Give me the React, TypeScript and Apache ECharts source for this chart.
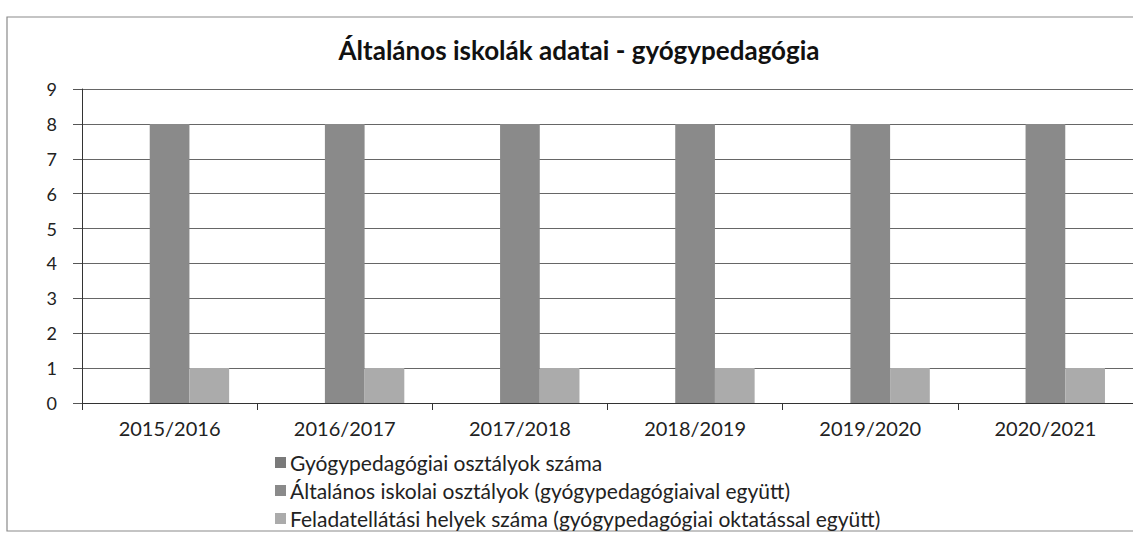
import React, { useEffect, useRef } from "react";
import * as echarts from "echarts";

const categories = ["2015/2016", "2016/2017", "2017/2018", "2018/2019", "2019/2020", "2020/2021"];
const seriesNames = [
  "Gyógypedagógiai osztályok száma",
  "Általános iskolai osztályok (gyógypedagógiaival együtt)",
  "Feladatellátási helyek száma (gyógypedagógiai oktatással együtt)",
];
const gyogypedOsztalyok = [0, 0, 0, 0, 0, 0];
const altalanosOsztalyok = [8, 8, 8, 8, 8, 8];
const feladatellatasiHelyek = [1, 1, 1, 1, 1, 1];
const seriesColors = ["#7a7a7a", "#8a8a8a", "#ababab"];
const FONT = "Lato, 'Open Sans', sans-serif";

export default function App() {
  const ref = useRef<HTMLDivElement>(null);
  useEffect(() => {
    if (!ref.current) return;
    const chart = echarts.init(ref.current, undefined, { renderer: "svg" });
    const values = [gyogypedOsztalyok, altalanosOsztalyok, feladatellatasiHelyek];
    chart.setOption({
      animation: false,
      backgroundColor: "#ffffff",
      title: {
        text: "Általános iskolák adatai - gyógypedagógia",
        left: 574,
        top: 32,
        textAlign: "center",
        textStyle: { fontFamily: FONT, fontSize: 26, fontWeight: "bold", color: "#111" },
      },
      graphic: [
        {
          type: "rect",
          shape: { x: 7, y: 17, width: 1140, height: 514 },
          style: { fill: "none", stroke: "#8a8a8a", lineWidth: 1.2 },
          silent: true,
        },
      ],
      legend: {
        orient: "vertical",
        left: 270,
        top: 447,
        itemGap: 7,
        itemWidth: 11,
        itemHeight: 11,
        icon: "rect",
        textStyle: { fontFamily: FONT, fontSize: 21, color: "#222", padding: [0, 0, 0, -1] },
        data: seriesNames,
      },
      grid: { left: 82, width: 1065, top: 89, height: 314, containLabel: false },
      xAxis: {
        type: "category",
        data: categories,
        axisLine: { lineStyle: { color: "#333", width: 1 } },
        axisTick: { show: true, alignWithLabel: false, length: 7, lineStyle: { color: "#333" } },
        axisLabel: { fontFamily: FONT, fontSize: 20, color: "#222", margin: 15 },
      },
      yAxis: {
        type: "value",
        min: 0,
        max: 9,
        interval: 1,
        axisLine: { show: true, lineStyle: { color: "#333", width: 1 } },
        axisTick: { show: true, length: 9, lineStyle: { color: "#555" } },
        axisLabel: { fontFamily: FONT, fontSize: 18, color: "#222", margin: 25 },
        splitLine: { lineStyle: { color: "#666", width: 1 } },
      },
      series: seriesNames.map((name, i) => ({
        name,
        type: "bar",
        data: values[i],
        barGap: "0%",
        barCategoryGap: "32%",
        itemStyle: { color: seriesColors[i] },
      })),
    });
    return () => chart.dispose();
  }, []);
  return <div ref={ref} style={{ position: "fixed", left: 0, top: 0, width: 1133, height: 546 }} />;
}
